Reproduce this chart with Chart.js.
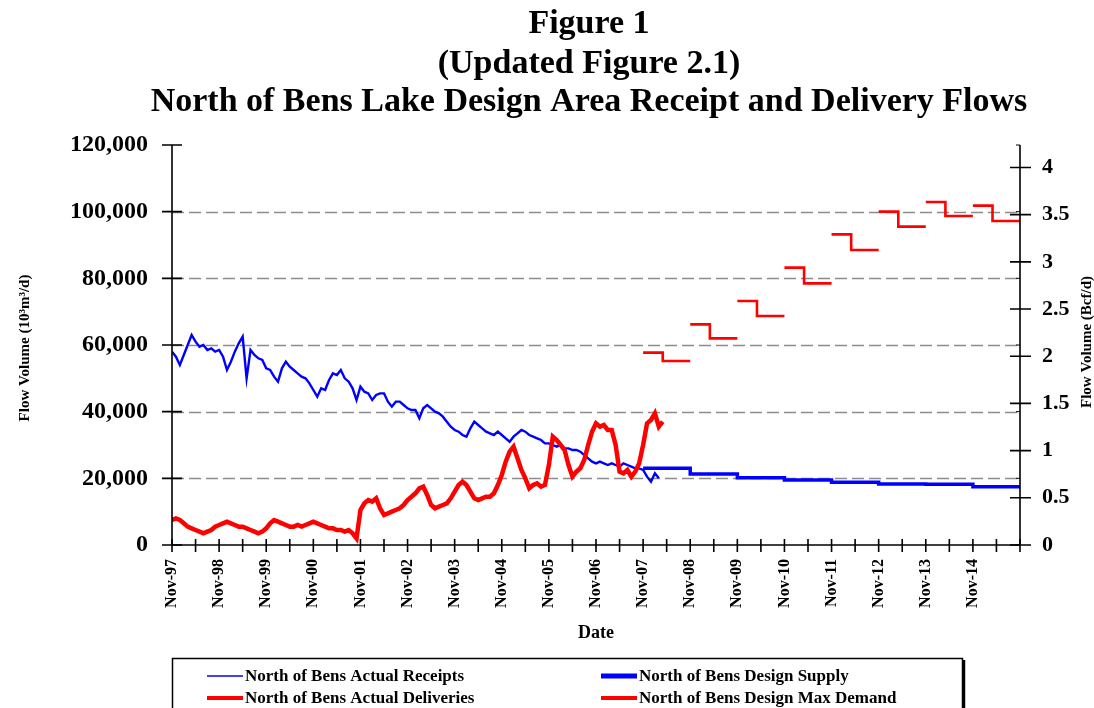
<!DOCTYPE html>
<html>
<head>
<meta charset="utf-8">
<script src="https://cdn.jsdelivr.net/npm/chart.js@4.4.1/dist/chart.umd.min.js"></script>
<style>
html,body{margin:0;padding:0;background:#fff;}
canvas{display:block;}
</style>
</head>
<body>
<canvas id="c" width="1094" height="708"></canvas>
<script>
// ---- Data (x = months since Nov-1997) ----
const titleLines = ['Figure 1', '(Updated Figure 2.1)', 'North of Bens Lake Design Area Receipt and Delivery Flows'];
const seriesLabels = ['North of Bens Actual Receipts', 'North of Bens Design Supply', 'North of Bens Actual Deliveries', 'North of Bens Design Max Demand'];
const leftTitle = 'Flow Volume (10\u00B3m\u00B3/d)';
const rightTitle = 'Flow Volume (Bcf/d)';
const xTitle = 'Date';

// monthly actual receipts, starting Nov-97
const receiptsValues = [58000,56500,54000,57000,60000,63000,61000,59500,60000,58500,59000,58000,58500,56500,52500,55000,58000,60500,62500,50000,
58500,57000,56000,55500,53000,52500,50500,49000,53000,55000,53500,52500,51500,50500,50000,48500,46500,44500,47000,46500,
49500,51500,51000,52500,50000,49000,47000,43500,47500,46000,45500,43500,45000,45500,45500,43000,41500,43000,43000,42000,
41000,40500,40500,38000,41000,42000,41000,40000,39500,38500,37000,35500,34500,34000,33000,32500,35000,37000,36000,35000,
34000,33500,33000,34000,33000,32000,31000,32500,33500,34500,34000,33000,32500,32000,31500,30500,30500,30000,29500,30000,
29000,29000,28500,28500,28000,27000,26000,25000,24500,25000,24500,24000,24500,24000,23500,24500,24000,23500,23000,23000,
22500,20500,19000,21500,20000];

// monthly actual deliveries, starting Nov-97
const deliveriesValues = [7500,8000,7500,6500,5500,5000,4500,4000,3500,4000,4500,5500,6000,6500,7000,6500,6000,5500,5500,5000,
4500,4000,3500,4000,5000,6500,7500,7000,6500,6000,5500,5500,6000,5500,6000,6500,7000,6500,6000,5500,
5000,5000,4500,4500,4000,4500,3500,2000,10500,12500,13500,13000,14000,11000,9000,9500,10000,10500,11000,12000,
13500,14500,15500,17000,17500,15000,12000,11000,11500,12000,12500,14000,16000,18000,19000,18000,16000,14000,13500,14000,
14500,14500,15500,18000,21000,25000,28000,29500,26000,22500,20000,17000,18000,18500,17500,18000,24000,32500,31500,30000,
28500,24000,20500,22000,23000,25500,30000,34000,36500,35500,36000,34500,34500,30000,22000,21500,22500,20500,22000,24500,
30000,36500,37500,39500,35500,37000];

// design years starting Nov-07 (month 120)
const designStartMonth = 120;
const supplyValues = [23000,21300,20200,19500,18800,18300,18200,17500];
const demandWinterValues = [57700,66200,73200,83200,93200,100000,102900,101800];
const demandSummerValues = [55200,62000,68700,78500,88500,95500,98700,97200];
const winterMonths = 5;

const leftTicks = [0,20000,40000,60000,80000,100000,120000];
const BCF = 28317; // 10^3 m3 per Bcf

// ---- Build datasets ----
const receiptsPts = receiptsValues.map((v,i)=>({x:i,y:v}));
const deliveriesPts = deliveriesValues.map((v,i)=>({x:i,y:v}));
const supplyPts = supplyValues.map((v,i)=>({x:designStartMonth+12*i,y:v}));
supplyPts.push({x:designStartMonth+12*supplyValues.length, y:supplyValues[supplyValues.length-1]});
const demandPts = [];
demandWinterValues.forEach((w,i)=>{
  const s = designStartMonth+12*i;
  demandPts.push({x:s,y:w});
  demandPts.push({x:s+winterMonths,y:demandSummerValues[i]});
  demandPts.push({x:s+12,y:demandSummerValues[i]});
  demandPts.push({x:s+12,y:null});
});

const SERIF = "'Liberation Serif','Times New Roman',serif";
const BLUE = '#0000ff', RED = '#ff0000';

const framePlugin = {
  id:'frame',
  beforeDatasetsDraw(chart){
    const {ctx, chartArea:a, scales} = chart;
    const y = scales.y;
    ctx.save();
    ctx.strokeStyle = '#8c8c8c';
    ctx.lineWidth = 1.6;
    ctx.setLineDash([12,5]);
    leftTicks.forEach(v=>{
      if (v===0 || v===120000) return;
      const py = Math.round(y.getPixelForValue(v))+0.5;
      ctx.beginPath(); ctx.moveTo(a.left, py); ctx.lineTo(a.right, py); ctx.stroke();
    });
    ctx.restore();
  },
  afterDraw(chart){
    const {ctx, chartArea:a, scales} = chart;
    const x = scales.x, y = scales.y, y1 = scales.y1;
    ctx.save();
    ctx.strokeStyle = '#000';
    ctx.lineWidth = 1.6;
    ctx.setLineDash([]);
    // axis lines
    ctx.beginPath();
    ctx.moveTo(a.left, a.top); ctx.lineTo(a.left, a.bottom);
    ctx.moveTo(a.right, a.top); ctx.lineTo(a.right, a.bottom);
    ctx.moveTo(a.left, a.bottom); ctx.lineTo(a.right, a.bottom);
    ctx.stroke();
    // left ticks
    ctx.beginPath();
    y.ticks.forEach(t=>{ const py=y.getPixelForValue(t.value); ctx.moveTo(a.left-10,py); ctx.lineTo(a.left+10,py); });
    // right ticks
    y1.ticks.forEach(t=>{ const py=y1.getPixelForValue(t.value); ctx.moveTo(a.right-10,py); ctx.lineTo(a.right+11,py); });
    // x ticks
    x.ticks.forEach(t=>{ const px=x.getPixelForValue(t.value); ctx.moveTo(px,a.bottom-6); ctx.lineTo(px,a.bottom+7); });
    ctx.stroke();
    // right minor ticks at left tick positions
    ctx.lineWidth = 1;
    ctx.beginPath();
    leftTicks.forEach(v=>{ const py=y.getPixelForValue(v); ctx.moveTo(a.right-4,py); ctx.lineTo(a.right,py); });
    ctx.stroke();

    // titles
    ctx.fillStyle = '#000';
    ctx.textAlign = 'center';
    ctx.textBaseline = 'alphabetic';
    ctx.font = "bold 34px " + SERIF;
    const tb = [33, 73, 111];
    titleLines.forEach((t,i)=>ctx.fillText(t, 589, tb[i]));

    // axis titles
    ctx.font = "bold 15px " + SERIF;
    ctx.textBaseline = 'middle';
    ctx.save(); ctx.translate(25, 348); ctx.rotate(-Math.PI/2); ctx.fillText(leftTitle, 0, 0); ctx.restore();
    ctx.save(); ctx.translate(1087, 342); ctx.rotate(-Math.PI/2); ctx.fillText(rightTitle, 0, 0); ctx.restore();
    ctx.font = "bold 18px " + SERIF;
    ctx.fillText(xTitle, 596, 633);

    // legend
    ctx.lineWidth = 1.5;
    ctx.strokeStyle = '#000';
    ctx.strokeRect(172.5, 658.5, 790, 70);
    ctx.lineWidth = 2.5;
    ctx.beginPath(); ctx.moveTo(964, 660); ctx.lineTo(964, 708); ctx.stroke();
    const items = [
      {label:seriesLabels[0], color:BLUE, w:1.5, x:207, y:676},
      {label:seriesLabels[1], color:BLUE, w:5, x:601, y:676},
      {label:seriesLabels[2], color:RED, w:4, x:207, y:698},
      {label:seriesLabels[3], color:RED, w:4, x:601, y:698},
    ];
    ctx.font = "bold 17px " + SERIF;
    ctx.textAlign = 'left';
    ctx.textBaseline = 'middle';
    items.forEach(it=>{
      ctx.strokeStyle = it.color; ctx.lineWidth = it.w;
      ctx.beginPath(); ctx.moveTo(it.x, it.y); ctx.lineTo(it.x+36, it.y); ctx.stroke();
      ctx.fillStyle = '#000';
      ctx.fillText(it.label, it.x+38, it.y+1);
    });
    ctx.restore();
  }
};

new Chart(document.getElementById('c'), {
  type:'line',
  data:{
    datasets:[
      {label:seriesLabels[2], data:deliveriesPts, borderColor:RED, borderWidth:4.5, yAxisID:'y'},
      {label:seriesLabels[3], data:demandPts, borderColor:RED, borderWidth:2.6, stepped:'before', spanGaps:false, yAxisID:'y'},
      {label:seriesLabels[0], data:receiptsPts, borderColor:BLUE, borderWidth:2.4, yAxisID:'y'},
      {label:seriesLabels[1], data:supplyPts, borderColor:BLUE, borderWidth:3.5, stepped:'before', yAxisID:'y'},
    ]
  },
  options:{
    responsive:false,
    animation:false,
    devicePixelRatio:1,
    layout:{padding:{top:145,left:0,right:0,bottom:0}},
    elements:{point:{radius:0}, line:{tension:0, borderCapStyle:'butt', borderJoinStyle:'miter'}},
    plugins:{legend:{display:false}, title:{display:false}, tooltip:{enabled:false}},
    scales:{
      x:{
        type:'linear', min:0, max:216,
        grid:{display:false, drawTicks:false}, border:{display:false},
        ticks:{
          stepSize:6, autoSkip:false, minRotation:90, maxRotation:90, padding:14,
          color:'#000', font:{family:SERIF, size:16, weight:'bold'},
          callback:(v)=>{
            if (v % 12 !== 0 || v >= 216) return '';
            const yr = (97 + v/12) % 100;
            return 'Nov-' + String(yr).padStart(2,'0');
          }
        },
        afterFit:(s)=>{ s.height = 163; }
      },
      y:{
        type:'linear', position:'left', min:0, max:120000,
        grid:{display:false, drawTicks:false}, border:{display:false},
        afterBuildTicks:(s)=>{ s.ticks = leftTicks.map(v=>({value:v})); },
        ticks:{
          padding:24, color:'#000', font:{family:SERIF, size:24, weight:'bold'},
          callback:(v)=>Number(v).toLocaleString('en-US')
        },
        afterFit:(s)=>{ s.width = 172; }
      },
      y1:{
        type:'linear', position:'right', min:0, max:120000/BCF,
        grid:{display:false, drawTicks:false}, border:{display:false},
        ticks:{
          stepSize:0.5, includeBounds:false, padding:22, color:'#000',
          font:{family:SERIF, size:22, weight:'bold'},
          callback:(v)=>String(Math.round(v*10)/10)
        },
        afterFit:(s)=>{ s.width = 74; }
      }
    }
  },
  plugins:[framePlugin]
});
</script>
</body>
</html>
